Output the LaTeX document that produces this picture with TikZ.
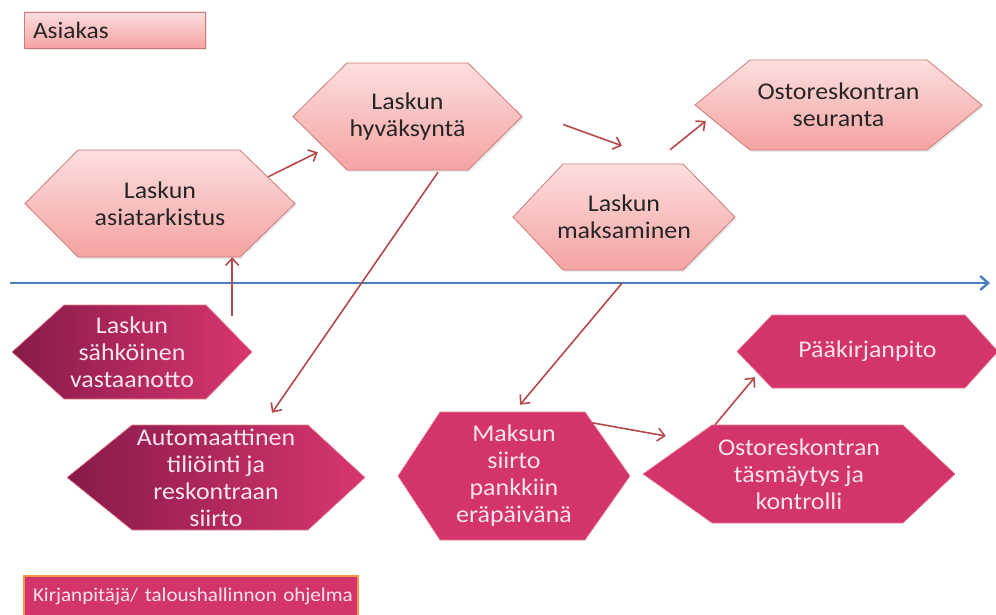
\documentclass[tikz,border=0pt]{standalone}
\usepackage{fontspec}
\setmainfont{Carlito}[FakeStretch=1.08]
\usetikzlibrary{arrows.meta,shadows,calc}

\definecolor{paletop}{HTML}{FDDEDE}
\definecolor{palebot}{HTML}{F4A3A2}
\definecolor{paleline}{HTML}{CF7B7A}
\definecolor{deepleft}{HTML}{881A4A}
\definecolor{deepright}{HTML}{D8366F}
\definecolor{rose}{HTML}{D3346C}
\definecolor{roseline}{HTML}{E9828A}
\definecolor{inkdark}{HTML}{262626}
\definecolor{inklight}{HTML}{FCE4EE}
\definecolor{flowred}{HTML}{B4484B}
\definecolor{axisblue}{HTML}{4A7EBB}
\definecolor{labelorange}{HTML}{F7964A}

\newcommand\hexfont{\fontsize{24}{27}\selectfont}
\newcommand\labfont{\fontsize{23.5}{25}\selectfont}

% #1 family (pale/deep/flat), #2 name, #3 left tip x, #4 top-left x, #5 top-right x,
% #6 right tip x, #7 top y, #8 bottom y, #9 text
\newcommand\hexbox[9]{%
  \path[#1 hex] (#3,{(#7+#8)/2}) -- (#4,#7) -- (#5,#7) -- (#6,{(#7+#8)/2})
     -- (#5,#8) -- (#4,#8) -- cycle;
  \node[#1 text, inner sep=0pt, minimum width={#6-#3}, minimum height={#8-#7}]
     (#2) at ({(#3+#6)/2},{(#7+#8)/2}) {#9};
}

\tikzset{
  pale hex/.style={draw=paleline, line width=0.8pt, top color=paletop, bottom color=palebot,
    drop shadow={opacity=0.18, shadow xshift=1.5pt, shadow yshift=-2pt}},
  pale text/.style={text=inkdark, font=\hexfont, align=center},
  deep hex/.style={draw=roseline, line width=0.6pt, left color=deepleft, right color=deepright},
  deep text/.style={text=inklight, font=\hexfont, align=center},
  flat hex/.style={draw=roseline, line width=0.6pt, fill=rose},
  flat text/.style={text=inklight, font=\hexfont, align=center},
  flow/.style={draw=flowred, line width=1.6pt, -{Straight Barb[length=7pt,width=13pt,line width=1.6pt]}},
  axis/.style={draw=axisblue, line width=2.4pt, -{Straight Barb[length=8pt,width=14pt,line width=2.4pt]}},
}

\begin{document}
\begin{tikzpicture}[x=1pt,y=-1pt]
\useasboundingbox (0,0) rectangle (996,615);

% role labels
\node[draw=paleline, line width=0.8pt, top color=paletop, bottom color=palebot,
      drop shadow={opacity=0.18, shadow xshift=1.5pt, shadow yshift=-2pt},
      minimum width=181pt, minimum height=36pt, inner xsep=9pt, text width=163pt,
      align=left, text=inkdark, font=\labfont] (asiakas) at (114.5,30) {Asiakas};
\node[draw=labelorange, line width=1.4pt, fill=rose,
      minimum width=334pt, minimum height=40pt, inner xsep=9pt, text width=316pt,
      align=left, text=inklight, font=\fontsize{19.5}{22}\selectfont] (ohjelma) at (191,596)
      {\mbox{Kirjanpitäjä/ taloushallinnon ohjelma}};

% time axis
\coordinate (axisL) at (10,283);
\coordinate (axisR) at (990,283);
\draw[axis] (axisL) -- (axisR);

% customer side
\hexbox{pale}{asiat}{25}{78}{240}{295}{150}{257}{Laskun\\asiatarkistus}
\hexbox{pale}{hyv}{293}{347}{468}{522}{63}{170}{Laskun\\hyväksyntä}
\hexbox{pale}{maks}{513}{563}{683}{735}{164}{270}{Laskun\\maksaminen}
\hexbox{pale}{seur}{695}{750}{927}{982}{60}{150}{Ostoreskontran\\seuranta}

% accounting side
\hexbox{deep}{sahk}{12}{64}{206}{252}{305}{399}{Laskun\\sähköinen\\vastaanotto}
\hexbox{deep}{auto}{67}{132}{308}{365}{425}{530}{Automaattinen\\tiliöinti ja\\reskontraan\\siirto}
\hexbox{flat}{maksun}{398}{440}{585}{630}{412}{540}{Maksun\\siirto\\pankkiin\\eräpäivänä}
\hexbox{flat}{paak}{737}{772}{965}{998}{315}{388}{Pääkirjanpito}
\hexbox{flat}{tasm}{643}{712}{903}{955}{425}{523}{Ostoreskontran\\täsmäytys ja\\kontrolli}

% flow between the steps
\coordinate (s1) at ($(sahk.north east)+(-20,11)$);
\draw[flow] (s1) -- (s1 |- asiat.south);
\draw[flow] ($(asiat.north east)+(-27,27)$) -- ($(hyv.south west)+(25,-18)$);
\draw[flow] ($(hyv.south)+(30.5,2)$) -- ($(auto.north)+(56,-12)$);
\draw[flow] ($(hyv.east)+(41,8)$) -- ($(maks.north)+(-2,-18)$);
\draw[flow] ($(maks.north)+(46,-14)$) -- ($(seur.west)+(11,16)$);
\draw[flow] ($(maks.south)+(-2,13)$) -- ($(maksun.north)+(6,-7)$);
\draw[flow] ($(maksun.north east)+(-38,11)$) -- ($(tasm.west)+(23,-38)$);
\draw[flow] ($(tasm.north)+(-84,0)$) -- ($(paak.south west)+(18,-11)$);
\end{tikzpicture}
\end{document}
